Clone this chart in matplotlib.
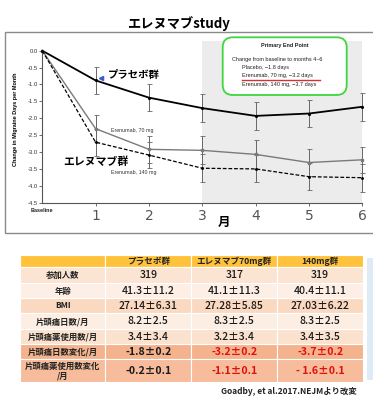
import matplotlib
matplotlib.use("Agg")
import matplotlib.pyplot as plt
import matplotlib.patches as mpatches
from matplotlib.transforms import IdentityTransform

plt.rcParams['font.family'] = ['Noto Sans CJK JP', 'DejaVu Sans']

W, H = 373, 400

# chart data
months = [0, 1, 2, 3, 4, 5, 6]
placebo = [0.0, -0.88, -1.39, -1.70, -1.93, -1.86, -1.66]
placebo_err = [0, 0.40, 0.40, 0.41, 0.41, 0.41, 0.41]
e70 = [0.0, -2.31, -2.92, -2.95, -3.07, -3.31, -3.23]
e70_err = [0, 0.40, 0.40, 0.41, 0.42, 0.40, 0.39]
e140 = [0.0, -2.71, -3.09, -3.48, -3.50, -3.73, -3.76]
e140_err = [0, 0.40, 0.39, 0.41, 0.40, 0.40, 0.41]
yticks = [0.0, -0.5, -1.0, -1.5, -2.0, -2.5, -3.0, -3.5, -4.0, -4.5]

# table data
col_heads = ['', 'プラセボ群', 'エレヌマブ70mg群', '140mg群']
row_heads = ['参加人数', '年齢', 'BMI', '片頭痛日数/月', '片頭痛薬使用数/月',
             '片頭痛日数変化/月', '片頭痛薬使用数変化\n/月']
cells = [
    ['319', '317', '319'],
    ['41.3±11.2', '41.1±11.3', '40.4±11.1'],
    ['27.14±6.31', '27.28±5.85', '27.03±6.22'],
    ['8.2±2.5', '8.3±2.5', '8.3±2.5'],
    ['3.4±3.4', '3.2±3.4', '3.4±3.5'],
    ['-1.8±0.2', '-3.2±0.2', '-3.7±0.2'],
    ['-0.2±0.1', '-1.1±0.1', '- 1.6±0.1'],
]
row_colors = ['#FBE4D2', '#FDEFE5', '#FAD9C0', '#FDEEE3', '#FBE2CE', '#F4B38D', '#F6BC9B']
head_color = '#FFC23A'
red_cells = {(5, 1), (5, 2), (6, 1), (6, 2)}


def fx(x):
    return x / W


def fy(y):
    return 1 - y / H


fig = plt.figure(figsize=(W / 100, H / 100), dpi=100)

# outer frame of the chart picture
fig.add_artist(mpatches.Rectangle((5, H - 233), 400, 201, transform=IdentityTransform(),
                                  fill=False, edgecolor='#8a8a8a', lw=1.0))

ax = fig.add_axes([fx(42.3), fy(202.7), fx(362.3) - fx(42.3), fy(50.7) - fy(202.7)])
ax.set_xlim(0, 6)
ax.set_ylim(-4.5, 0)

ax.add_patch(mpatches.Rectangle((3, -4.5), 3, 4.79, facecolor='#ececec', edgecolor='none',
                                zorder=0, clip_on=False))

ekw = dict(ecolor='#666666', elinewidth=0.7, capsize=1.8, capthick=0.6, clip_on=False)
ax.errorbar(months[1:], placebo[1:], yerr=placebo_err[1:], fmt='none', **ekw)
ax.errorbar(months[1:], e70[1:], yerr=e70_err[1:], fmt='none', **ekw)
ax.errorbar(months[1:], e140[1:], yerr=e140_err[1:], fmt='none', **ekw)

ax.plot(months, placebo, color='black', lw=1.3, marker='.', ms=2.5, clip_on=False, zorder=3)
ax.plot(months, e70, color='#7a7a7a', lw=1.0, marker='s', ms=1.6, clip_on=False, zorder=3)
ax.plot(months, e140, color='black', lw=0.9, ls='--', dashes=(3, 1.5), marker='.', ms=2.2,
        clip_on=False, zorder=3)

ax.plot([1.1], [-0.80], marker='<', color='#3b5bc9', ms=3.0, zorder=4)
ax.text(1.23, -0.72, 'プラセボ群', fontsize=7.5, fontweight='bold', va='center', ha='left')
ax.text(0.39, -3.28, 'エレヌマブ群', fontsize=7.8, fontweight='bold', va='center', ha='left')
ax.text(1.29, -2.35, 'Erenumab, 70 mg', fontsize=3.8, va='center', ha='left',
        family=['Liberation Sans'], color='#333333')
ax.text(1.29, -3.62, 'Erenumab, 140 mg', fontsize=3.8, va='center', ha='left',
        family=['Liberation Sans'], color='#333333')

for s in ['top', 'right']:
    ax.spines[s].set_visible(False)
for s in ['left', 'bottom']:
    ax.spines[s].set_color('#555555')
    ax.spines[s].set_linewidth(0.8)
ax.set_facecolor('none')

ax.set_yticks(yticks)
ax.set_yticklabels(['%.1f' % v for v in yticks], fontsize=4.2, family=['Liberation Sans'],
                   color='#333333')
ax.tick_params(axis='y', length=2, width=0.6, pad=1, colors='#555555', labelcolor='#333333')
ax.set_xticks(months[1:])
ax.set_xticklabels([str(m) for m in months[1:]], fontsize=10, family=['DejaVu Sans'],
                   color='#555555')
ax.tick_params(axis='x', length=2, width=0.6, pad=2.5, colors='#555555', labelcolor='#555555')
ax.text(0, -4.72, 'Baseline', fontsize=4.0, fontweight='bold', ha='center', va='center',
        family=['Liberation Sans'], color='#222222', clip_on=False)

fig.text(fx(15.7), fy(119.5), 'Change in Migraine Days per Month', rotation=90,
         fontsize=4.0, fontweight='bold', ha='center', va='center', family=['Liberation Sans'])
fig.text(fx(224), fy(222), '月', fontsize=9, fontweight='bold', ha='center', va='center')
fig.text(fx(178), fy(24), 'エレヌマブstudy', fontsize=9.5, fontweight='bold',
         ha='center', va='center')

# primary end point box
fig.add_artist(mpatches.FancyBboxPatch((222.7, H - 95), 124, 57.7,
                                       boxstyle='round,pad=0,rounding_size=10',
                                       transform=IdentityTransform(), facecolor='white',
                                       edgecolor='#3fd63f', lw=1.3))
bkw = dict(family=['Liberation Sans'], fontsize=4.0, va='center', color='#222222')
fig.text(fx(285), fy(45.7), 'Primary End Point', ha='center', fontweight='bold', **bkw)
fig.text(fx(232), fy(60), 'Change from baseline to months 4–6', ha='left', **bkw)
fig.text(fx(242), fy(67.7), 'Placebo, −1.8 days', ha='left', **bkw)
fig.text(fx(242), fy(75.7), 'Erenumab, 70 mg, −3.2 days', ha='left', **bkw)
fig.text(fx(242), fy(84.3), 'Erenumab, 140 mg, −3.7 days', ha='left', **bkw)
fig.add_artist(plt.Line2D([242, 320], [H - 80, H - 80], transform=IdentityTransform(),
                          color='#d9302c', lw=1.0))

# table
row_edges = [254.7, 266.7, 283, 298, 313, 329, 344, 359.3, 382.3]
col_edges = [20, 105.3, 191.3, 277.3, 363]
tax = fig.add_axes([0, 0, 1, 1])
tax.set_xlim(0, W)
tax.set_ylim(H, 0)
tax.axis('off')

for j in range(4):
    x0, x1 = col_edges[j], col_edges[j + 1]
    tax.add_patch(mpatches.Rectangle((x0, row_edges[0]), x1 - x0, row_edges[1] - row_edges[0],
                                     facecolor=head_color, edgecolor='white', lw=0.8))
    tax.text((x0 + x1) / 2, (row_edges[0] + row_edges[1]) / 2 + 0.5, col_heads[j],
             fontsize=6.2, fontweight='bold', ha='center', va='center', color='#222222')

for i in range(len(row_heads)):
    y0, y1 = row_edges[i + 1], row_edges[i + 2]
    yc = (y0 + y1) / 2 + 0.5
    for j in range(4):
        x0, x1 = col_edges[j], col_edges[j + 1]
        tax.add_patch(mpatches.Rectangle((x0, y0), x1 - x0, y1 - y0,
                                         facecolor=row_colors[i], edgecolor='white', lw=0.8))
    tax.text((col_edges[0] + col_edges[1]) / 2, yc, row_heads[i], fontsize=6.0,
             fontweight='bold', ha='center', va='center', color='#222222', linespacing=1.0,
             multialignment='center')
    for j in range(3):
        xc = (col_edges[j + 1] + col_edges[j + 2]) / 2
        red = (i, j) in red_cells
        bold = i >= 5
        tax.text(xc, yc, cells[i][j], fontsize=7.6, ha='center', va='center',
                 fontweight='bold' if bold else 'medium',
                 color='#e01010' if red else '#1a1a1a')

tax.add_patch(mpatches.Rectangle((367, 258), 10, 122, facecolor='#dfeaf7', edgecolor='none'))
tax.text(357, 391.7, 'Goadby, et al.2017.NEJMより改変', fontsize=6.0, fontweight='bold',
         ha='right', va='center', color='#222222')

fig.savefig('out.png', dpi=100)
